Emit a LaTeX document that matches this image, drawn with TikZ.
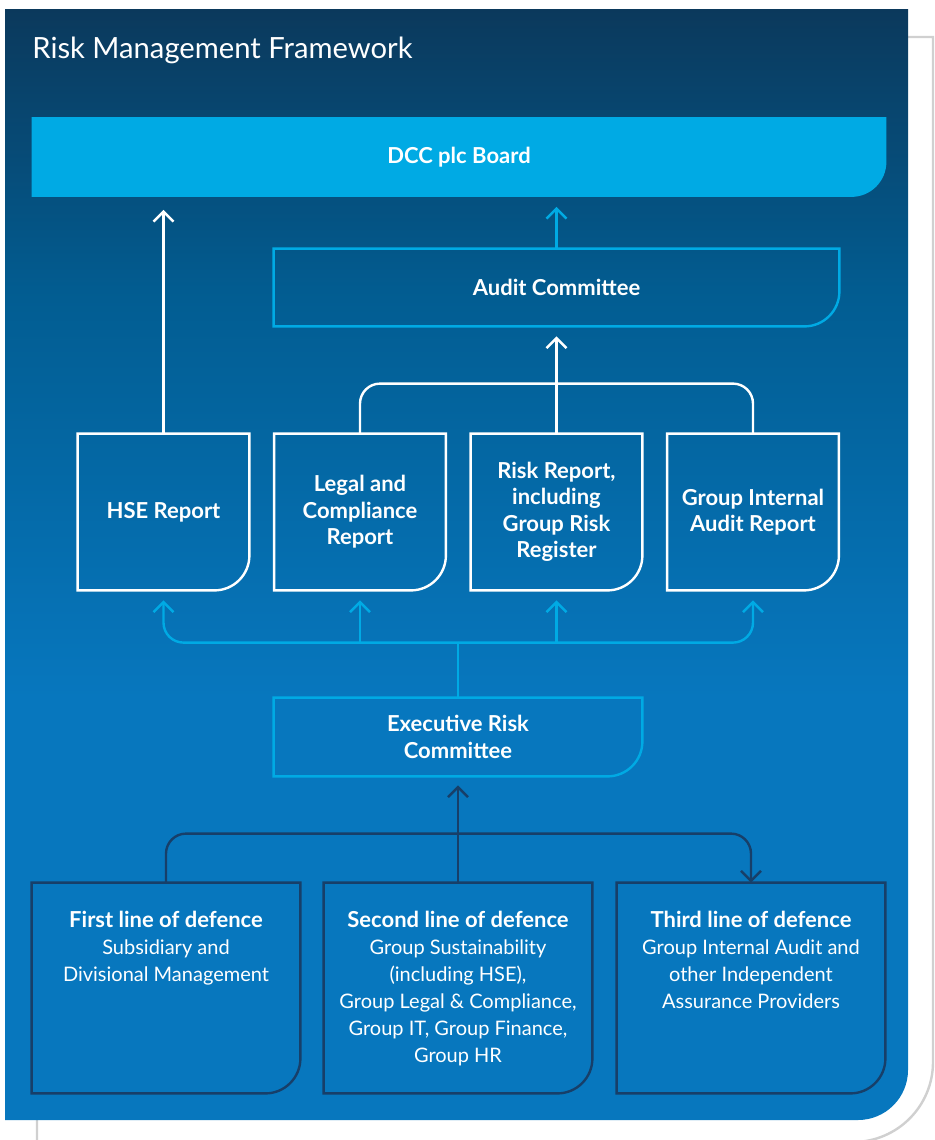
\documentclass[tikz,border=0pt]{standalone}
\usepackage{fontspec}
\setmainfont{Lato}
\usepackage{xcolor}
\usepackage{tikz}
\usetikzlibrary{arrows.meta}

\definecolor{navytop}{HTML}{0B395C}
\definecolor{navymid}{HTML}{025D92}
\definecolor{paneblue}{HTML}{0777BE}
\definecolor{skyblue}{HTML}{00AAE4}
\definecolor{inkblue}{HTML}{173F69}
\definecolor{framegrey}{HTML}{D0D0D0}

\pgfdeclareverticalshading{panelshade}{100bp}{color(0bp)=(paneblue); color(44bp)=(paneblue); color(62bp)=(navymid); color(75bp)=(navytop); color(100bp)=(navytop)}
\pgfdeclarelayer{background}
\pgfsetlayers{background,main}

% outline with one rounded corner, bottom right
\newcommand\tabframe[2]{\path[#2] (#1.north west) -- (#1.north east) [rounded corners=17.5pt] -- (#1.south east) [sharp corners] -- (#1.south west) -- cycle;}

\begin{document}
\begin{tikzpicture}[x=0.5pt, y=-0.5pt,
    boxtext/.style={text=white, align=center, font=\bfseries\fontsize{11}{13.25}\selectfont},
    linetext/.style={text=white, align=center, anchor=north, inner sep=0pt, font=\fontsize{10}{13.5}\selectfont},
    report/.style={boxtext, minimum width=85.5pt, minimum height=78pt},
    defence/.style={minimum width=134pt, minimum height=105pt},
    arr/.style={-{Straight Barb[length=5pt,width=10pt]}},
    wline/.style={white, line width=1.2pt},
    sline/.style={skyblue, line width=1.2pt},
    nline/.style={inkblue, line width=1.2pt}]
  \useasboundingbox (0,0) rectangle (935,1140);

  \node[boxtext, minimum width=427pt, minimum height=39.5pt] (board) at (459,157) {DCC plc Board};
  \node[boxtext, minimum width=282.5pt, minimum height=38.5pt] (audit) at (556.5,287.5) {Audit Committee};
  \node[report] (hse) at (163.5,512) {HSE Report};
  \node[report] (legal) at (360,512) {Legal and\\Compliance\\Report};
  \node[report] (risk) at (556.5,512) {Risk Report,\\including\\Group Risk\\Register};
  \node[report] (gia) at (753,512) {Group Internal\\Audit Report};
  \node[boxtext, minimum width=184pt, minimum height=39pt] (erc) at (458,737) {Executive Risk\\Committee};
  \node[defence] (first) at (166,988) {};
  \node[defence] (second) at (458,988) {};
  \node[defence] (third) at (751,988) {};

  \node[linetext] (first text) at ([yshift=-14pt]first.north) {{\bfseries\fontsize{11}{13.5}\selectfont First line of defence}\\Subsidiary and\\Divisional Management};
  \node[linetext] (second text) at ([yshift=-14pt]second.north) {{\bfseries\fontsize{11}{13.5}\selectfont Second line of defence}\\Group Sustainability\\(including HSE),\\Group Legal \& Compliance,\\Group IT, Group Finance,\\Group HR};
  \node[linetext] (third text) at ([yshift=-14pt]third.north) {{\bfseries\fontsize{11}{13.5}\selectfont Third line of defence}\\Group Internal Audit and\\other Independent\\Assurance Providers};

  \node[anchor=base west, text=white, inner sep=0pt, font=\fontsize{14.6}{16}\selectfont] (title) at (32,58) {Risk Management Framework};

  \begin{pgfonlayer}{background}
    \draw[framegrey, line width=1.2pt] (37,1160) -- (37,37) -- (933,37) [rounded corners=40pt] -- (933,1142) [sharp corners] -- (600,1142);
    \path[shading=panelshade] (5,9) -- (908,9) [rounded corners=25pt] -- (908,1120) [sharp corners] -- (5,1120) -- cycle;
    \tabframe{board}{fill=skyblue}
  \end{pgfonlayer}

  \tabframe{audit}{draw=skyblue, line width=1.2pt}
  \tabframe{erc}{draw=skyblue, line width=1.2pt}
  \foreach \n in {hse,legal,risk,gia} {\tabframe{\n}{draw=white, line width=1.2pt}}
  \foreach \n in {first,second,third} {\tabframe{\n}{draw=inkblue, line width=1.2pt}}

  % reports up to the committees and the board
  \draw[wline, arr, shorten >=6.5pt] (hse.north) -- (hse.north |- board.south);
  \draw[sline, arr, shorten >=5pt] (audit.north) -- (audit.north |- board.south);
  \draw[wline, rounded corners=10pt] (legal.north) -- ++(0,-50) -| (gia.north);
  \draw[wline, arr, shorten >=5pt] (risk.north) -- (audit.south);

  % executive risk committee out to the reports
  \coordinate (hub) at ([yshift=27.5pt]erc.north);
  \draw[sline] (erc.north) -- (hub);
  \draw[sline, arr, shorten >=5pt, rounded corners=10pt] (hub) -| (hse.south);
  \draw[sline, arr, shorten >=5pt, rounded corners=10pt] (hub) -| (gia.south);
  \draw[sline, arr, shorten >=5pt] (hub -| legal.south) -- (legal.south);
  \draw[sline, arr, shorten >=5pt] (hub -| risk.south) -- (risk.south);

  % lines of defence
  \draw[nline, arr, shorten >=4.5pt] (second.north) -- (erc.south);
  \draw[nline, arr, rounded corners=10pt] (first.north) -- ++(0,-49) -| (third.north);
\end{tikzpicture}
\end{document}
